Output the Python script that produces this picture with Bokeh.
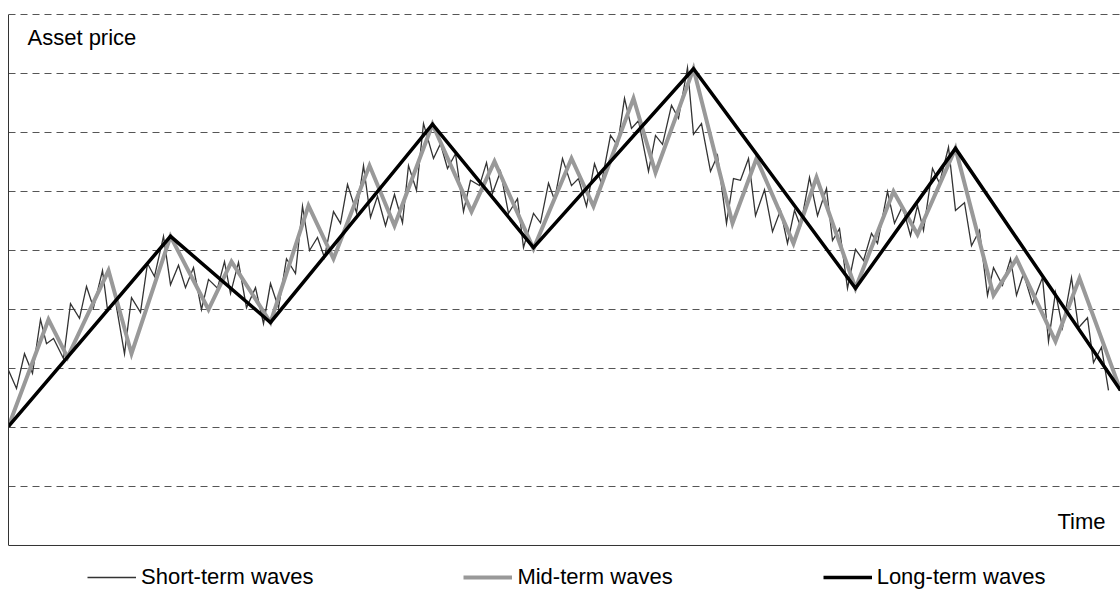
from bokeh.plotting import figure
from bokeh.models import Range1d, FixedTicker, Span, Label, Legend, LegendItem
from bokeh.embed import file_html
from bokeh.resources import INLINE

# ---- data (time in arbitrary units, price in arbitrary index units) ----
long_t = [0, 162, 262, 424, 525, 685, 847, 947, 1112]
long_p = [20.2, 52.4, 37.8, 71.4, 50.5, 80.8, 43.6, 67.3, 26.3]

mid_t = [0, 40, 59, 100, 123, 162, 200, 223, 262, 300, 325, 361, 386, 424,
         463, 486, 525, 563, 585, 625, 647, 685, 724, 748, 785, 808, 847,
         885, 909, 947, 985, 1008, 1047, 1071, 1112]
mid_p = [20.2, 38.3, 31.9, 46.6, 32.5, 52.4, 40.0, 48.1, 37.8, 57.6, 48.6,
         64.4, 54.2, 71.4, 56.6, 65.1, 50.3, 65.6, 57.5, 75.8, 63.2, 80.8,
         54.6, 65.6, 51.2, 62.4, 43.6, 60.0, 52.7, 67.3, 42.4, 48.6, 34.6,
         45.3, 26.3]

short_t = [0, 8, 16, 24, 32, 38, 45, 55, 62, 71, 78, 85, 94, 99, 107, 116,
           123, 132, 139, 146, 155, 162, 170, 177, 185, 193, 200, 209, 216,
           222, 230, 238, 247, 255, 262, 270, 278, 287, 294, 301, 309, 316,
           325, 332, 339, 348, 355, 362, 369, 377, 386, 394, 400, 408, 415,
           425, 432, 439, 447, 455, 462, 471, 478, 484, 492, 500, 509, 515,
           525, 532, 540, 546, 554, 563, 570, 578, 586, 593, 602, 609, 616,
           623, 630, 640, 647, 654, 663, 670, 679, 685, 693, 702, 709, 718,
           725, 732, 740, 747, 756, 764, 772, 779, 786, 792, 801, 809, 818,
           824, 831, 839, 847, 855, 863, 869, 879, 886, 894, 902, 909, 915,
           924, 931, 940, 947, 956, 963, 971, 979, 985, 994, 1002, 1008, 1015,
           1024, 1034, 1040, 1047, 1054, 1063, 1070, 1079, 1085, 1093, 1100]
short_p = [29.7, 26.6, 32.5, 29.2, 38.3, 34.2, 35.1, 31.7, 41.0, 38.5, 43.9,
           40.3, 46.6, 40.0, 41.4, 32.5, 42.0, 39.5, 47.8, 45.6, 52.4, 44.2,
           47.5, 43.7, 47.1, 40.0, 45.1, 43.6, 48.1, 42.7, 48.0, 40.3, 43.7,
           37.6, 44.4, 40.3, 48.6, 46.1, 57.5, 50.0, 52.2, 48.8, 56.6, 54.6,
           61.2, 56.4, 64.4, 55.6, 59.2, 54.2, 59.5, 54.7, 64.4, 60.2, 71.5,
           65.6, 68.1, 63.9, 66.4, 56.6, 61.9, 61.0, 64.9, 59.7, 63.4, 56.3,
           58.8, 50.5, 56.3, 54.7, 61.4, 58.6, 65.6, 61.0, 62.2, 57.5, 64.7,
           61.4, 69.5, 67.8, 75.8, 70.7, 72.0, 63.4, 69.5, 68.0, 74.6, 72.4,
           81.0, 69.7, 71.5, 63.4, 66.1, 54.6, 62.2, 61.9, 65.6, 55.9, 60.3,
           53.2, 56.8, 51.2, 56.8, 54.1, 62.4, 55.9, 60.5, 51.7, 53.7, 43.6,
           50.2, 48.3, 52.9, 51.2, 60.0, 54.6, 57.5, 52.5, 57.6, 53.4, 63.9,
           61.4, 67.5, 56.8, 58.1, 50.8, 53.4, 42.4, 47.1, 44.1, 48.6, 42.4,
           46.1, 41.0, 45.4, 34.6, 42.9, 36.9, 45.4, 36.9, 38.6, 31.0, 33.6,
           26.3]

grid_ticks = [10, 20, 30, 40, 50, 60, 70, 80, 90]
y_bounds = (0, 90)
y_label = "Asset price"
x_label = "Time"
series_names = ["Short-term waves", "Mid-term waves", "Long-term waves"]

FONT = "Liberation Sans"

# frame extends below the price axis to hold the legend row
p = figure(width=1120, height=590, output_backend="svg", toolbar_location=None,
           x_range=Range1d(0, 1112), y_range=Range1d(-7.63, 90.34),
           min_border_left=8, min_border_right=0, min_border_top=12,
           min_border_bottom=0)
p.outline_line_color = None
p.background_fill_color = "white"
p.border_fill_color = "white"
p.xaxis.visible = False
p.xgrid.visible = False

ya = p.yaxis[0]
ya.bounds = y_bounds
ya.ticker = FixedTicker(ticks=[])
ya.major_label_text_font_size = "0px"
ya.major_tick_line_color = None
ya.minor_tick_line_color = None
ya.axis_line_color = "#333333"
ya.axis_line_width = 1
ya.major_label_standoff = 0
ya.major_tick_out = 0
ya.major_tick_in = 0

p.ygrid.ticker = FixedTicker(ticks=grid_ticks)
p.ygrid.grid_line_color = "#555555"
p.ygrid.grid_line_width = 1
p.ygrid.grid_line_dash = "7 5"

p.add_layout(Span(location=0, dimension="width", line_color="#333333", line_width=1))

r_short = p.line(short_t, short_p, line_color="#333333", line_width=1.3, line_join="miter")
r_mid = p.line(mid_t, mid_p, line_color="#999999", line_width=4, line_join="miter")
r_long = p.line(long_t, long_p, line_color="#000000", line_width=3.5, line_join="miter")

p.add_layout(Label(x=19, y=86.1, text=y_label, text_font=FONT, text_font_size="22px",
                   text_baseline="middle", text_align="left", text_color="black"))
p.add_layout(Label(x=1097, y=4.1, text=x_label, text_font=FONT, text_font_size="22px",
                   text_baseline="middle", text_align="right", text_color="black"))

legend = Legend(items=[LegendItem(label=series_names[0], renderers=[r_short]),
                       LegendItem(label=series_names[1], renderers=[r_mid]),
                       LegendItem(label=series_names[2], renderers=[r_long])],
                orientation="horizontal", location=(79, 0),
                glyph_width=49, glyph_height=26, label_height=26,
                label_standoff=5, spacing=150, padding=0, margin=0,
                border_line_color=None, background_fill_alpha=0,
                label_text_font=FONT, label_text_font_size="22px",
                label_text_color="black")
p.add_layout(legend, "center")

open("out.html", "w").write(file_html(p, INLINE))
